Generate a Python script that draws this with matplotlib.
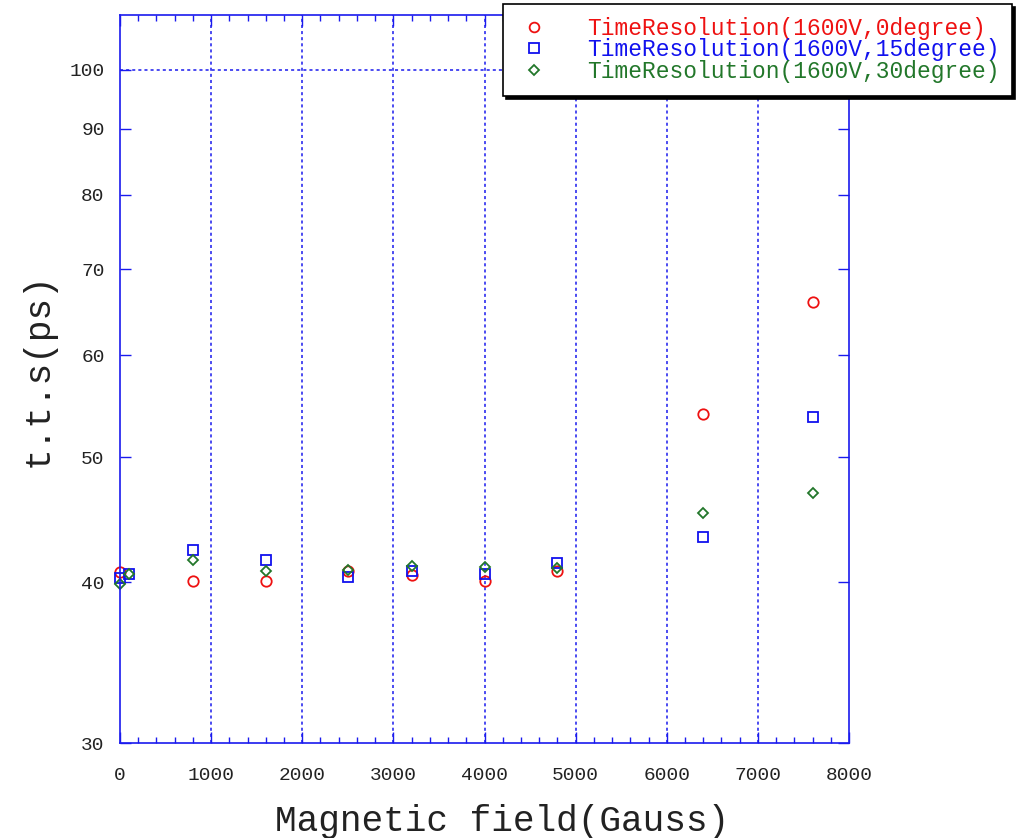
import matplotlib
matplotlib.use("Agg")
import matplotlib.pyplot as plt
from matplotlib.ticker import FixedLocator, MultipleLocator, NullLocator, FixedFormatter
from matplotlib.lines import Line2D

# Data
x_0deg = [0, 800, 1600, 2500, 3200, 4000, 4800, 6400, 7600]
y_0deg = [40.7, 40.1, 40.1, 40.8, 40.5, 40.1, 40.8, 54.0, 66.0]

x_15deg = [0, 100, 800, 1600, 2500, 3200, 4000, 4800, 6400, 7600]
y_15deg = [40.3, 40.6, 42.4, 41.6, 40.4, 40.8, 40.6, 41.4, 43.4, 53.7]

x_30deg = [0, 100, 800, 1600, 2500, 3200, 4000, 4800, 6400, 7600]
y_30deg = [39.9, 40.6, 41.6, 40.8, 40.9, 41.2, 41.1, 41.0, 45.3, 46.9]

labels = ["TimeResolution(1600V,0degree)",
          "TimeResolution(1600V,15degree)",
          "TimeResolution(1600V,30degree)"]
colors = ["#ee1111", "#1111ee", "#22772a"]

y_ticks = [30, 40, 50, 60, 70, 80, 90, 100]
x_ticks = [0, 1000, 2000, 3000, 4000, 5000, 6000, 7000, 8000]

mono = "Liberation Mono"

fig = plt.figure(figsize=(10.34, 8.38), dpi=100)
ax = fig.add_axes([120/1034, 1-743/838, (849-120)/1034, (743-15)/838])

ax.plot(x_0deg, y_0deg, linestyle="none", marker="o", markersize=7.5,
        markerfacecolor="none", markeredgecolor=colors[0], markeredgewidth=1.3, clip_on=False)
ax.plot(x_15deg, y_15deg, linestyle="none", marker="s", markersize=7.5,
        markerfacecolor="none", markeredgecolor=colors[1], markeredgewidth=1.3, clip_on=False)
ax.plot(x_30deg, y_30deg, linestyle="none", marker="D", markersize=5.5,
        markerfacecolor="none", markeredgecolor=colors[2], markeredgewidth=1.3, clip_on=False)

ax.set_yscale("log")
ax.set_xlim(0, 8000)
ax.set_ylim(30, 110.3)

ax.yaxis.set_major_locator(FixedLocator(y_ticks))
ax.yaxis.set_major_formatter(FixedFormatter([str(v) for v in y_ticks]))
ax.yaxis.set_minor_locator(NullLocator())
ax.xaxis.set_major_locator(FixedLocator(x_ticks))
ax.xaxis.set_minor_locator(MultipleLocator(200))

for s in ax.spines.values():
    s.set_color("#1a1aee")
    s.set_linewidth(1.2)

ax.tick_params(which="both", direction="in", top=True, right=True, color="#1a1aee")
ax.tick_params(which="major", length=8, width=1, labelsize=14, labelcolor="#222222")
ax.tick_params(axis="x", which="major", pad=17)
ax.tick_params(axis="y", which="major", pad=11)
ax.tick_params(which="minor", length=4, width=1)
for lab in ax.get_xticklabels() + ax.get_yticklabels():
    lab.set_fontfamily(mono)

# grid lines
for xv in x_ticks[1:-1]:
    ax.axvline(xv, color="#1a1aee", linestyle=(0, (2, 2)), linewidth=1.1, zorder=0)
ax.axhline(100, color="#1a1aee", linestyle=(0, (2, 2)), linewidth=1.1, zorder=0)

fig.text(502/1034, 1-821/838, "Magnetic field(Gauss)", fontsize=26, family=mono,
         color="#222222", ha="center", va="center")
fig.text(38/1034, 1-370/838, "t.t.s(ps)", fontsize=26, family=mono,
         color="#222222", ha="center", va="center", rotation=90)

handles = [
    Line2D([], [], linestyle="none", marker="o", markersize=7, markerfacecolor="none",
           markeredgecolor=colors[0], markeredgewidth=1.3),
    Line2D([], [], linestyle="none", marker="s", markersize=7, markerfacecolor="none",
           markeredgecolor=colors[1], markeredgewidth=1.3),
    Line2D([], [], linestyle="none", marker="D", markersize=5, markerfacecolor="none",
           markeredgecolor=colors[2], markeredgewidth=1.3),
]
leg = fig.legend(handles, labels, loc="upper right", bbox_to_anchor=(1012/1034, 1-4/838),
                 prop={"family": mono, "size": 16.5}, frameon=True, fancybox=False,
                 shadow={"color": "black", "alpha": 1.0}, borderpad=0.55,
                 labelspacing=-0.05, handletextpad=1.5, handlelength=1.6, borderaxespad=0)
fr = leg.get_frame()
fr.set_edgecolor("black")
fr.set_linewidth(1.2)
fr.set_facecolor("white")
for t, c in zip(leg.get_texts(), colors):
    t.set_color(c)

fig.savefig("out.png", dpi=100)
